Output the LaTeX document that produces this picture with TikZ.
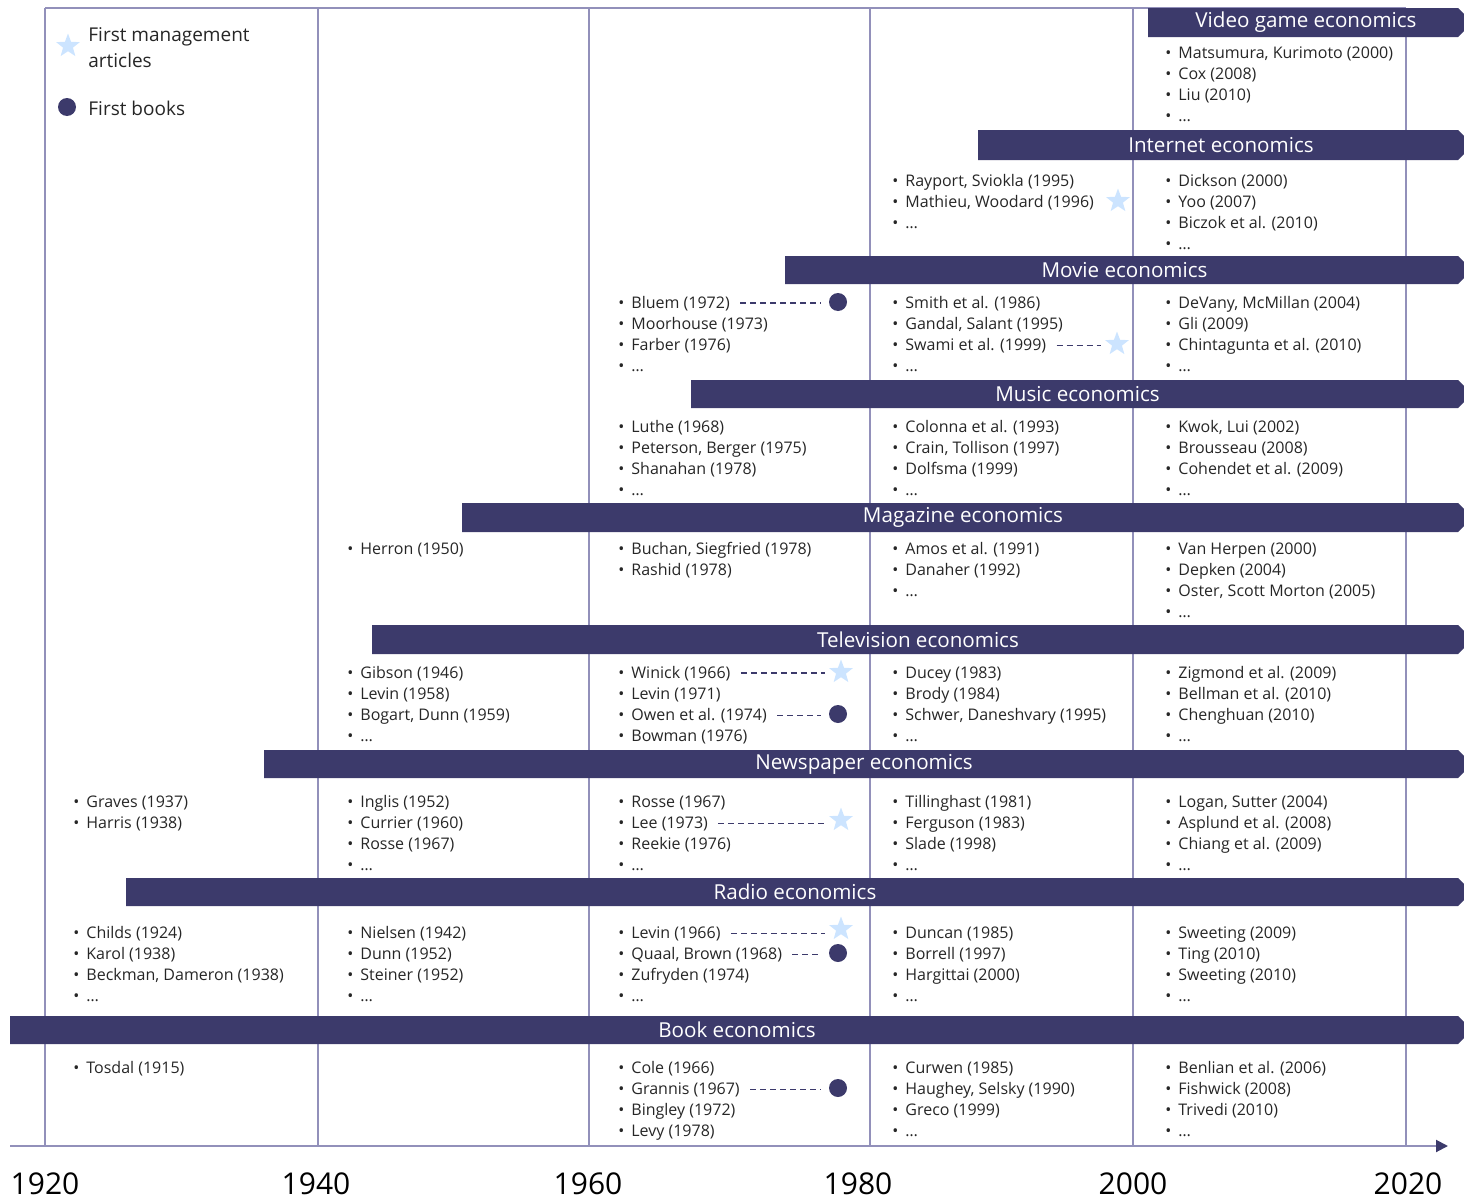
\documentclass[tikz,border=0pt]{standalone}
\usepackage{fontspec}
\setmainfont{Open Sans}
\usetikzlibrary{shapes.geometric,arrows.meta}

\definecolor{barblue}{RGB}{60,58,107}
\definecolor{gridline}{RGB}{146,144,186}
\definecolor{starblue}{RGB}{204,228,255}

% name, x of bullet, y of first line, items
\newcommand{\reflist}[4]{%
  \foreach \t [count=\i] in {#4}
    \node[ref] (#1-\i) at (#2,{#3+6+(\i-1)*21.2}) {\textbullet\hspace{3.5pt}\t};
}
% name, x start, y top, y bottom, title
\newcommand{\econbar}[5]{%
  \fill[barblue] (#2,#3) -- (1458,#3) -- (1464,{#3+6}) -- (1464,{#4-6}) -- (1458,#4) -- (#2,#4) -- cycle;
  \node[bartitle] (#1) at ({(#2+1464)/2},{(#3+#4)/2}) {#5};
}

\begin{document}
\begin{tikzpicture}[x=0.5pt,y=-0.5pt,
  ref/.style={anchor=base west,inner sep=0pt,text=black!85,font=\fontsize{8}{10}\selectfont},
  bartitle/.style={inner sep=0pt,text=white,font=\fontsize{10.3}{12}\selectfont},
  legend/.style={inner sep=0pt,text=black!85,align=left,font=\fontsize{9.5}{13}\selectfont},
  year/.style={inner sep=0pt,font=\fontsize{15}{18}\selectfont},
  firstart/.style={star,star points=5,star point ratio=2.4,fill=starblue,minimum size=12.5pt,inner sep=0pt},
  firstbook/.style={circle,fill=barblue,minimum size=9pt,inner sep=0pt},
  lead/.style={barblue,line width=0.7pt,dash pattern=on 3pt off 2pt,shorten <=5pt,shorten >=4pt}]

\useasboundingbox (0,0) rectangle (1464,1199);

% grid and time axis
\draw[gridline,line width=1pt] (45,8) -- (1406,8);
\foreach \x in {45,318,589,870,1133,1406}
  \draw[gridline,line width=1pt] (\x,8) -- (\x,1146);
\draw[gridline,line width=1pt,-{Triangle[length=6pt,width=6pt,color=barblue]}] (10,1146) -- (1448,1146);

\foreach \yr/\x in {1920/45,1940/316,1960/588,1980/858,2000/1133,2020/1408}
  \node[year] (year\yr) at (\x,1184) {\yr};

% legend
\node[firstart] (legstar) at (68,46) {};
\node[legend,anchor=west] (legstartext) at (88,48) {First management\\articles};
\node[firstbook] (legbook) at (67,107) {};
\node[legend,anchor=west] (legbooktext) at (88,108) {First books};

% fields
\econbar{video}{1148}{8}{37}{Video game economics}
\econbar{internet}{978}{130}{160}{Internet economics}
\econbar{movie}{785}{256}{284}{Movie economics}
\econbar{music}{691}{380}{408}{Music economics}
\econbar{magazine}{462}{503}{532}{Magazine economics}
\econbar{tv}{372}{625}{654}{Television economics}
\econbar{newspaper}{264}{750}{778}{Newspaper economics}
\econbar{radio}{126}{878}{906}{Radio economics}
\econbar{book}{10}{1016}{1044}{Book economics}

% references
\reflist{video5}{1165}{52}{{Matsumura, Kurimoto (2000)}, Cox (2008), Liu (2010), \dots}

\reflist{internet4}{892}{180}{{Rayport, Sviokla (1995)}, {Mathieu, Woodard (1996)}, \dots}
\reflist{internet5}{1165}{180}{Dickson (2000), Yoo (2007), Biczok et al. (2010), \dots}

\reflist{movie3}{618}{302}{Bluem (1972), Moorhouse (1973), Farber (1976), \dots}
\reflist{movie4}{892}{302}{Smith et al. (1986), {Gandal, Salant (1995)}, Swami et al. (1999), \dots}
\reflist{movie5}{1165}{302}{{DeVany, McMillan (2004)}, Gli (2009), Chintagunta et al. (2010), \dots}

\reflist{music3}{618}{426}{Luthe (1968), {Peterson, Berger (1975)}, Shanahan (1978), \dots}
\reflist{music4}{892}{426}{Colonna et al. (1993), {Crain, Tollison (1997)}, Dolfsma (1999), \dots}
\reflist{music5}{1165}{426}{{Kwok, Lui (2002)}, Brousseau (2008), Cohendet et al. (2009), \dots}

\reflist{magazine2}{347}{548}{Herron (1950)}
\reflist{magazine3}{618}{548}{{Buchan, Siegfried (1978)}, Rashid (1978)}
\reflist{magazine4}{892}{548}{Amos et al. (1991), Danaher (1992), \dots}
\reflist{magazine5}{1165}{548}{Van Herpen (2000), Depken (2004), {Oster, Scott Morton (2005)}, \dots}

\reflist{tv2}{347}{672}{Gibson (1946), Levin (1958), {Bogart, Dunn (1959)}, \dots}
\reflist{tv3}{618}{672}{Winick (1966), Levin (1971), Owen et al. (1974), Bowman (1976)}
\reflist{tv4}{892}{672}{Ducey (1983), Brody (1984), {Schwer, Daneshvary (1995)}, \dots}
\reflist{tv5}{1165}{672}{Zigmond et al. (2009), Bellman et al. (2010), Chenghuan (2010), \dots}

\reflist{newspaper1}{73}{801}{Graves (1937), Harris (1938)}
\reflist{newspaper2}{347}{801}{Inglis (1952), Currier (1960), Rosse (1967), \dots}
\reflist{newspaper3}{618}{801}{Rosse (1967), Lee (1973), Reekie (1976), \dots}
\reflist{newspaper4}{892}{801}{Tillinghast (1981), Ferguson (1983), Slade (1998), \dots}
\reflist{newspaper5}{1165}{801}{{Logan, Sutter (2004)}, Asplund et al. (2008), Chiang et al. (2009), \dots}

\reflist{radio1}{73}{932}{Childs (1924), Karol (1938), {Beckman, Dameron (1938)}, \dots}
\reflist{radio2}{347}{932}{Nielsen (1942), Dunn (1952), Steiner (1952), \dots}
\reflist{radio3}{618}{932}{Levin (1966), {Quaal, Brown (1968)}, Zufryden (1974), \dots}
\reflist{radio4}{892}{932}{Duncan (1985), Borrell (1997), Hargittai (2000), \dots}
\reflist{radio5}{1165}{932}{Sweeting (2009), Ting (2010), Sweeting (2010), \dots}

\reflist{book1}{73}{1067}{Tosdal (1915)}
\reflist{book3}{618}{1067}{Cole (1966), Grannis (1967), Bingley (1972), Levy (1978)}
\reflist{book4}{892}{1067}{Curwen (1985), {Haughey, Selsky (1990)}, Greco (1999), \dots}
\reflist{book5}{1165}{1067}{Benlian et al. (2006), Fishwick (2008), Trivedi (2010), \dots}

% first articles and books
\node[firstart] (internetstar) at (1118,201) {};
\node[firstart] (moviestar) at (1117,344) {};
\node[firstbook] (moviebook) at (838,302) {};
\node[firstart] (tvstar) at (841,672) {};
\node[firstbook] (tvbook) at (838,714) {};
\node[firstart] (newspaperstar) at (841,820) {};
\node[firstart] (radiostar) at (841,929) {};
\node[firstbook] (radiobook) at (838,953) {};
\node[firstbook] (bookbook) at (838,1088) {};

\draw[lead] (movie3-1.east) -- (movie3-1.east -| moviebook.west);
\draw[lead] (movie4-3.east) -- (movie4-3.east -| moviestar.west);
\draw[lead] (tv3-1.east) -- (tv3-1.east -| tvstar.west);
\draw[lead] (tv3-3.east) -- (tv3-3.east -| tvbook.west);
\draw[lead] (newspaper3-2.east) -- (newspaper3-2.east -| newspaperstar.west);
\draw[lead] (radio3-1.east) -- (radio3-1.east -| radiostar.west);
\draw[lead] (radio3-2.east) -- (radio3-2.east -| radiobook.west);
\draw[lead] (book3-2.east) -- (book3-2.east -| bookbook.west);

\end{tikzpicture}
\end{document}
